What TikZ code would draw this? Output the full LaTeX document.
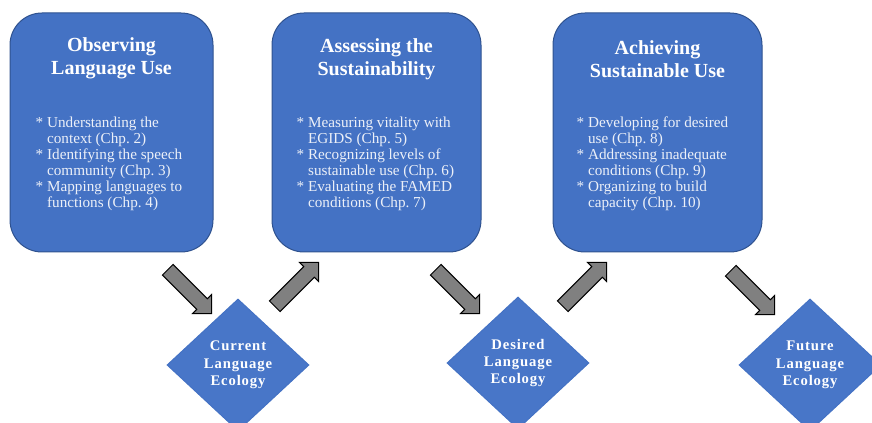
\documentclass[tikz,border=0pt]{standalone}
\usepackage{fontspec}
\setmainfont{Liberation Serif}
\newfontfamily\ecofont[LetterSpace=6]{Liberation Serif}
\usetikzlibrary{shapes.geometric,shapes.arrows}

\tikzset{every picture/.style={line width=0.75pt}}

\begin{document}
\begin{tikzpicture}[x=0.75pt,y=0.75pt,yscale=-1,xscale=1,
  stagebox/.style={draw={rgb, 255:red, 47; green, 82; blue, 143 }, fill={rgb, 255:red, 68; green, 114; blue, 196 }, rounded corners=24pt, minimum height=179.25pt, inner sep=0pt},
  stagetitle/.style={text=white, font=\fontsize{15}{17.5}\selectfont\bfseries, align=center, inner sep=0.75pt},
  steplist/.style={text={rgb, 255:red, 236; green, 240; blue, 248 }, font=\fontsize{11.4}{12}\selectfont, anchor=base west, inner sep=0pt},
  ecology/.style={diamond, draw={rgb, 255:red, 68; green, 114; blue, 196 }, fill={rgb, 255:red, 72; green, 118; blue, 200 }, minimum width=106.5pt, minimum height=99pt, inner sep=0pt, text=white, font=\ecofont\fontsize{11}{13}\selectfont\bfseries, align=center},
  flowarrow/.style={single arrow, draw=black, fill={rgb, 255:red, 128; green, 128; blue, 128 }, minimum height=46.5pt, inner xsep=0pt, inner ysep=5.25pt, single arrow head extend=4.5pt, single arrow tip angle=90}
]
%set diagram left start at 0, and has height of 423
\useasboundingbox (0,0) rectangle (872,423);
\clip (0,0) rectangle (872,423);

%Rounded Rect: stage boxes
\draw (111.5,132.5) node (observe) [stagebox, minimum width=152.25pt] {};
\draw (376.5,132.5) node (assess) [stagebox, minimum width=156.75pt] {};
\draw (657.5,132.5) node (achieve) [stagebox, minimum width=156.75pt] {};

%Diamonds: language ecologies
\draw (238,365) node (current) [ecology] {Current\\Language\\Ecology};
\draw (518,363) node (desired) [ecology] {Desired\\Language\\Ecology};
\draw (810,365) node (future) [ecology] {Future\\Language\\Ecology};

%Block Arrows
\draw (187,289) node (obsToCur) [flowarrow, rotate=-45] {};
\draw (294,287) node (curToAss) [flowarrow, rotate=45] {};
\draw (455,289) node (assToDes) [flowarrow, rotate=-45] {};
\draw (582,287) node (desToAch) [flowarrow, rotate=45] {};
\draw (750,290) node (achToFut) [flowarrow, rotate=-45] {};

% Text Node
\draw (111.5,58.5) node (observeTitle) [stagetitle] {Observing\\Language Use};
% Text Node
\draw (376.5,59.5) node (assessTitle) [stagetitle] {Assessing the\\Sustainability};
% Text Node
\draw (657.5,59.5) node (achieveTitle) [stagetitle] {Achieving\\Sustainable Use};

% Text Node
\draw (35,128) node (observeList) [steplist] {\begin{tabular}[t]{@{}l@{\hspace{3pt}}l@{}}
{*}& Understanding the\\ & context (Chp.~2)\\
{*}& Identifying the speech\\ & community (Chp.~3)\\
{*}& Mapping languages to\\ & functions (Chp.~4)
\end{tabular}};
% Text Node
\draw (296,128) node (assessList) [steplist] {\begin{tabular}[t]{@{}l@{\hspace{3pt}}l@{}}
{*}& Measuring vitality with\\ & EGIDS (Chp.~5)\\
{*}& Recognizing levels of\\ & sustainable use (Chp.~6)\\
{*}& Evaluating the FAMED\\ & conditions (Chp.~7)
\end{tabular}};
% Text Node
\draw (576,128) node (achieveList) [steplist] {\begin{tabular}[t]{@{}l@{\hspace{3pt}}l@{}}
{*}& Developing for desired\\ & use (Chp.~8)\\
{*}& Addressing inadequate\\ & conditions (Chp.~9)\\
{*}& Organizing to build\\ & capacity (Chp.~10)
\end{tabular}};
\end{tikzpicture}
\end{document}
